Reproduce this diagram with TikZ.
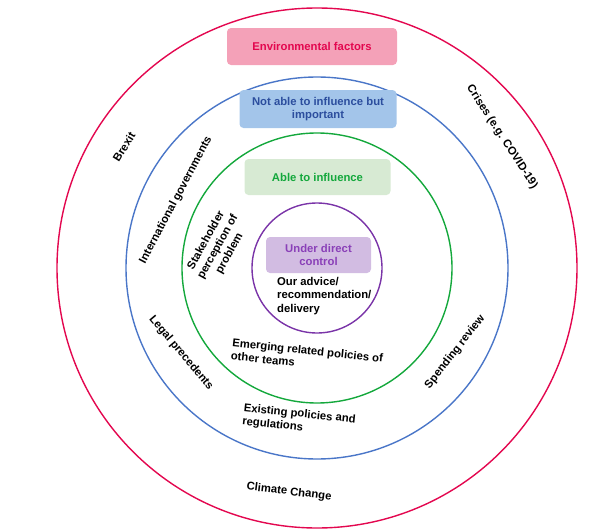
\documentclass[tikz,border=0pt]{standalone}
\usepackage{fontspec}
\setmainfont{Liberation Sans}
\definecolor{envred}{HTML}{E3074F}
\definecolor{envfill}{HTML}{F4A1B8}
\definecolor{infblue}{HTML}{4A76C8}
\definecolor{inftext}{HTML}{2C4E9E}
\definecolor{inffill}{HTML}{A3C5EA}
\definecolor{ablegreen}{HTML}{14A83C}
\definecolor{ablefill}{HTML}{D7EAD3}
\definecolor{dirpurple}{HTML}{7A34A8}
\definecolor{dirtext}{HTML}{8A40B8}
\definecolor{dirfill}{HTML}{D2BCE2}
\newcommand{\lb}{\fontsize{11.3}{13.4}\selectfont\bfseries}

\begin{document}
\begin{tikzpicture}[x=1pt,y=-1pt,
  zone/.style={line width=1.4pt},
  tag/.style={rounded corners=4pt, inner sep=0pt, align=center, font=\lb},
  lbl/.style={inner sep=0pt, align=center, font=\lb}]
   \useasboundingbox (0,0) rectangle (603,530);
   \coordinate (c) at (317,268);
   % the four circles
   \draw[zone,envred]    (c) circle (260);
   \draw[zone,infblue]   (c) circle (191);
   \draw[zone,ablegreen] (c) circle (135);
   \draw[zone,dirpurple] (c) circle (65);
   % headings
   \node[tag,fill=envfill,text=envred,minimum width=170,minimum height=37]
     (env) at (312,46.5) {Environmental factors};
   \node[tag,fill=inffill,text=inftext,minimum width=157,minimum height=38]
     (notable) at (318,109) {Not able to influence but\\important};
   \node[tag,fill=ablefill,text=ablegreen,minimum width=146,minimum height=36]
     (able) at (317.5,177) {Able to influence};
   \node[tag,fill=dirfill,text=dirtext,minimum width=105,minimum height=36]
     (direct) at (318.5,255) {Under direct\\control};
   % labels
   \node[lbl,align=left,anchor=north west] (advice) at (277,277)
     {Our advice/\\recommendation/\\delivery};
   \node[lbl,rotate=61] (stake) at (218,247) {Stakeholder\\perception of\\problem};
   \node[lbl,rotate=62] (intgov) at (176,200) {International governments};
   \node[lbl,rotate=58] (brexit) at (124,147) {Brexit};
   \node[lbl,rotate=-57] (crises) at (502,137) {Crises (e.g. COVID-19)};
   \node[lbl,rotate=-50] (legal) at (181,353) {Legal precedents};
   \node[lbl,rotate=-6,align=left] (emerg) at (307,357)
     {Emerging related policies of\\other teams};
   \node[lbl,rotate=-6,align=left] (exist) at (299,421)
     {Existing policies and\\regulations};
   \node[lbl,rotate=52] (spend) at (455,352) {Spending review};
   \node[lbl,rotate=-7] (climate) at (289,492) {Climate Change};
\end{tikzpicture}
\end{document}
